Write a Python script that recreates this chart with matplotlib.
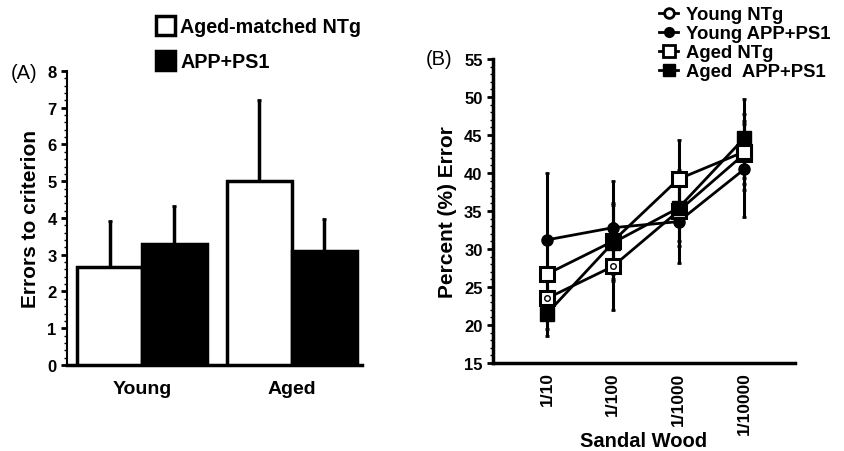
import numpy as np
import matplotlib
matplotlib.use('Agg')
import matplotlib.pyplot as plt
from matplotlib.patches import Patch
from matplotlib.lines import Line2D

plt.rcParams['font.family'] = ['Liberation Sans', 'DejaVu Sans']

# --- data panel A ---
groups = ['Young', 'Aged']
ntg_mean = [2.68, 5.0]
ntg_err = [1.25, 2.22]
app_mean = [3.3, 3.1]
app_err = [1.03, 0.88]

# --- data panel B ---
dilutions = ['1/10', '1/100', '1/1000', '1/10000']
young_ntg = [23.5, 27.7, 35.0, 42.5]
young_ntg_err = [4.0, 5.7, 4.0, 4.0]
young_app = [31.2, 32.8, 33.6, 40.5]
young_app_err = [8.8, 6.1, 5.4, 6.3]
aged_ntg = [26.7, 31.0, 39.2, 42.8]
aged_ntg_err = [5.0, 5.0, 5.2, 5.0]
aged_app = [21.5, 30.8, 35.4, 44.6]
aged_app_err = [3.0, 5.0, 5.0, 5.2]

fig = plt.figure(figsize=(8.44, 4.52), dpi=100)

# ---------------- panel A ----------------
axA = fig.add_axes([0.0794, 0.1903, 0.3495, 0.6504])
x = np.arange(len(groups))
w = 0.433
axA.bar(x - w / 2, ntg_mean, w, color='white', edgecolor='black', linewidth=2.5, zorder=3)
axA.bar(x + w / 2, app_mean, w, color='black', edgecolor='black', linewidth=2.5, zorder=3)
axA.errorbar(x - w / 2, ntg_mean, yerr=[np.zeros(2), ntg_err], fmt='none', ecolor='black',
             elinewidth=2.5, capsize=1.5, capthick=2, zorder=2)
axA.errorbar(x + w / 2, app_mean, yerr=[np.zeros(2), app_err], fmt='none', ecolor='black',
             elinewidth=2.5, capsize=1.5, capthick=2, zorder=2)
axA.set_xlim(-0.5, 1.467)
axA.set_ylim(0, 8)
axA.set_yticks(range(0, 9))
axA.set_yticks(np.arange(0, 8.01, 0.2), minor=True)
axA.set_xticks(x)
axA.set_xticklabels(groups, fontweight='bold', fontsize=14)
axA.tick_params(axis='x', length=0, pad=11)
axA.tick_params(axis='y', which='major', length=4, width=2, labelsize=12)
axA.tick_params(axis='y', which='minor', length=2, width=1)
for lab in axA.get_yticklabels():
    lab.set_fontweight('bold')
for s in ['top', 'right']:
    axA.spines[s].set_visible(False)
axA.spines['left'].set_linewidth(1.5)
axA.spines['bottom'].set_linewidth(2.5)
axA.set_ylabel('Errors to criterion', fontweight='bold', fontsize=15, labelpad=5)
fig.text(0.013, 0.838, '(A)', fontsize=14.5, va='center', ha='left')

legA = [Patch(facecolor='white', edgecolor='black', linewidth=2.5, label='Aged-matched NTg'),
        Patch(facecolor='black', edgecolor='black', linewidth=2.5, label='APP+PS1')]
fig.legend(handles=legA, loc='upper left', bbox_to_anchor=(0.168, 0.993), frameon=False,
           prop={'weight': 'bold', 'size': 14.2}, handlelength=1.0, handleheight=1.1,
           handletextpad=0.25, labelspacing=0.75, borderaxespad=0.3)

# ---------------- panel B ----------------
axB = fig.add_axes([0.5841, 0.1947, 0.3578, 0.6726])
xb = np.arange(len(dilutions))
ekw = dict(fmt='none', ecolor='black', elinewidth=2.2, capsize=1.5, capthick=2, zorder=2)
for m, e in [(young_app, young_app_err), (aged_ntg, aged_ntg_err),
             (aged_app, aged_app_err), (young_ntg, young_ntg_err)]:
    axB.errorbar(xb, m, yerr=e, **ekw)

axB.plot(xb, young_app, '-', color='black', lw=2, marker='o', ms=8,
         mfc='black', mec='black', zorder=4)
axB.plot(xb, young_ntg, '-', color='black', lw=2, marker='s', ms=10,
         mfc='white', mec='black', mew=2.2, zorder=5)
axB.plot(xb, young_ntg, 'none', marker='o', ms=4,
         mfc='white', mec='black', mew=1, zorder=5.5)
axB.plot(xb, aged_ntg, '-', color='black', lw=2, marker='s', ms=10,
         mfc='white', mec='black', mew=2.2, zorder=6)
axB.plot(xb, aged_app, '-', color='black', lw=2, marker='s', ms=10,
         mfc='black', mec='black', zorder=7)

axB.set_xlim(-0.82, 3.77)
axB.set_ylim(15, 55)
axB.set_yticks(range(15, 56, 5))
axB.set_yticks(np.arange(15, 55.01, 1), minor=True)
axB.set_xticks(xb)
axB.set_xticklabels(dilutions, rotation=90, fontweight='bold', fontsize=12.5)
axB.tick_params(axis='x', length=0, pad=6)
axB.tick_params(axis='y', which='major', length=4, width=2, labelsize=12)
axB.tick_params(axis='y', which='minor', length=2, width=1)
for lab in axB.get_yticklabels():
    lab.set_fontweight('bold')
for s in ['top', 'right']:
    axB.spines[s].set_visible(False)
axB.spines['left'].set_linewidth(2.5)
axB.spines['bottom'].set_linewidth(2.5)
axB.set_ylabel('Percent (%) Error', fontweight='bold', fontsize=15, labelpad=5)
axB.set_xlabel('Sandal Wood', fontweight='bold', fontsize=14.5, labelpad=-2)
fig.text(0.505, 0.868, '(B)', fontsize=14.5, va='center', ha='left')

legB = [Line2D([], [], color='black', lw=2, marker='o', ms=7, mfc='white', mec='black', mew=2,
               label='Young NTg'),
        Line2D([], [], color='black', lw=2, marker='o', ms=7, mfc='black', mec='black',
               label='Young APP+PS1'),
        Line2D([], [], color='black', lw=2, marker='s', ms=8, mfc='white', mec='black', mew=2,
               label='Aged NTg'),
        Line2D([], [], color='black', lw=2, marker='s', ms=8, mfc='black', mec='black',
               label='Aged  APP+PS1')]
fig.legend(handles=legB, loc='upper left', bbox_to_anchor=(0.768, 1.008), frameon=False,
           prop={'weight': 'bold', 'size': 13.3}, handlelength=1.0, handletextpad=0.45,
           labelspacing=0.1, borderaxespad=0.2)

fig.savefig('out.png', dpi=100)
